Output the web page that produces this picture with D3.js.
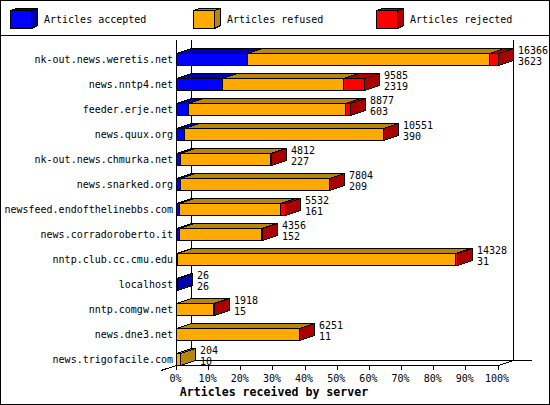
<!DOCTYPE html>
<html><head><meta charset="utf-8">
<script src="https://cdn.jsdelivr.net/npm/d3@7/dist/d3.min.js"></script>
<style>html,body{margin:0;padding:0;background:#fff}svg{display:block}
text{font-family:"DejaVu Sans Mono",monospace;font-size:10px;fill:#000}</style>
</head><body><svg id="c" width="550" height="405"></svg>
<script>
const servers=["nk-out.news.weretis.net","news.nntp4.net","feeder.erje.net","news.quux.org","nk-out.news.chmurka.net","news.snarked.org","newsfeed.endofthelinebbs.com","news.corradoroberto.it","nntp.club.cc.cmu.edu","localhost","nntp.comgw.net","news.dne3.net","news.trigofacile.com"];
const totals=[16366,9585,8877,10551,4812,7804,5532,4356,14328,26,1918,6251,204];
const accepted=[3623,2319,603,390,227,209,161,152,31,26,15,11,10];
const rejected=[458,1069,280,20,10,30,250,10,120,0,10,10,0];
const ticks=[0,10,20,30,40,50,60,70,80,90,100];
const legendLabels=["Articles accepted","Articles refused","Articles rejected"];
const fronts=["#0000ff","#ffaa00","#ff0000"];
const tops=["#0000aa","#b8860b","#aa0000"];
const xTitle="Articles received by server";

const svg=d3.select("#c");
const px=d3.scaleLinear().domain([0,100]).range([177,498.5]);
const x=d3.scaleLinear().domain([0,d3.max(totals)]).range([177,498.5]);
const band=d3.scaleBand().domain(servers).range([53,378]).padding(0);
const dx=15,dy=-5,barH=12;
const poly=(g,p,fill)=>g.append("polygon").attr("points",p.map(d=>d.join(",")).join(" ")).attr("fill",fill).attr("stroke","#000").attr("stroke-width",1).attr("shape-rendering","crispEdges");
const line=(g,a,b,c,d)=>g.append("line").attr("x1",a).attr("y1",b).attr("x2",c).attr("y2",d).attr("stroke","#000").attr("stroke-width",1).attr("shape-rendering","crispEdges");

svg.append("rect").attr("x",.5).attr("y",.5).attr("width",549).attr("height",404).attr("fill","#fff").attr("stroke","#000").attr("shape-rendering","crispEdges");
line(svg,0,35.5,550,35.5);

legendLabels.forEach((t,i)=>{
  const l=10.5+183*i,w=21,h=18,y=10.5;
  const g=svg.append("g");
  poly(g,[[l,y],[l+6,y-2],[l+w+6,y-2],[l+w,y]],tops[i]);
  poly(g,[[l+w,y],[l+w+6,y-2],[l+w+6,y+h-3],[l+w,y+h]],tops[i]);
  poly(g,[[l,y],[l+w,y],[l+w,y+h],[l,y+h]],fronts[i]);
  g.append("text").attr("x",l+33.5).attr("y",y+12).text(t);
});

// walls and floor
const yTop=40,yFloor=360.5,yFront=365.5;
line(svg,176.5,yTop,176.5,yFront);
line(svg,191.5,yTop,191.5,yFloor);
line(svg,513.5,yTop,513.5,yFloor);
line(svg,191.5,yFloor,532,yFloor);
line(svg,161,370.5,191.5,yFloor);
line(svg,176.5,yFront,498.5,yFront);
line(svg,498.5,yFront,513.5,yFloor);
ticks.forEach(t=>{
  const X=Math.round(px(t))-.5;
  line(svg,X,yFront,X,370);
  svg.append("text").attr("x",px(t)-1.5).attr("y",382).attr("text-anchor","middle").text(t+"%");
});
svg.append("text").attr("x",274).attr("y",396).attr("text-anchor","middle").style("font-weight","bold").style("font-size","11.6px").text(xTitle);

servers.forEach((s,i)=>{
  const y0=band(s)+.5,y1=y0+barH;
  const g=svg.append("g");
  const vals=[accepted[i],totals[i]-accepted[i]-rejected[i],rejected[i]];
  let acc=0;
  vals.forEach((v,k)=>{
    if(v<=0)return;
    const a=Math.round(x(acc))-.5,b=Math.max(Math.round(x(acc+v))-.5,a);
    poly(g,[[a,y0],[a+dx,y0+dy],[b+dx,y0+dy],[b,y0]],tops[k]);
    acc+=v;
    if(acc>=totals[i]) poly(g,[[b,y0],[b+dx,y0+dy],[b+dx,y1+dy],[b,y1]],tops[k]);
    if(b>a) poly(g,[[a,y0],[b,y0],[b,y1],[a,y1]],fronts[k]);
  });
  svg.append("text").attr("x",173).attr("y",y0+9).attr("text-anchor","end").text(s);
  const tx=Math.round(x(totals[i]))+19;
  svg.append("text").attr("x",tx).attr("y",y0).text(totals[i]);
  svg.append("text").attr("x",tx).attr("y",y0+11).text(accepted[i]);
});
</script></body></html>
